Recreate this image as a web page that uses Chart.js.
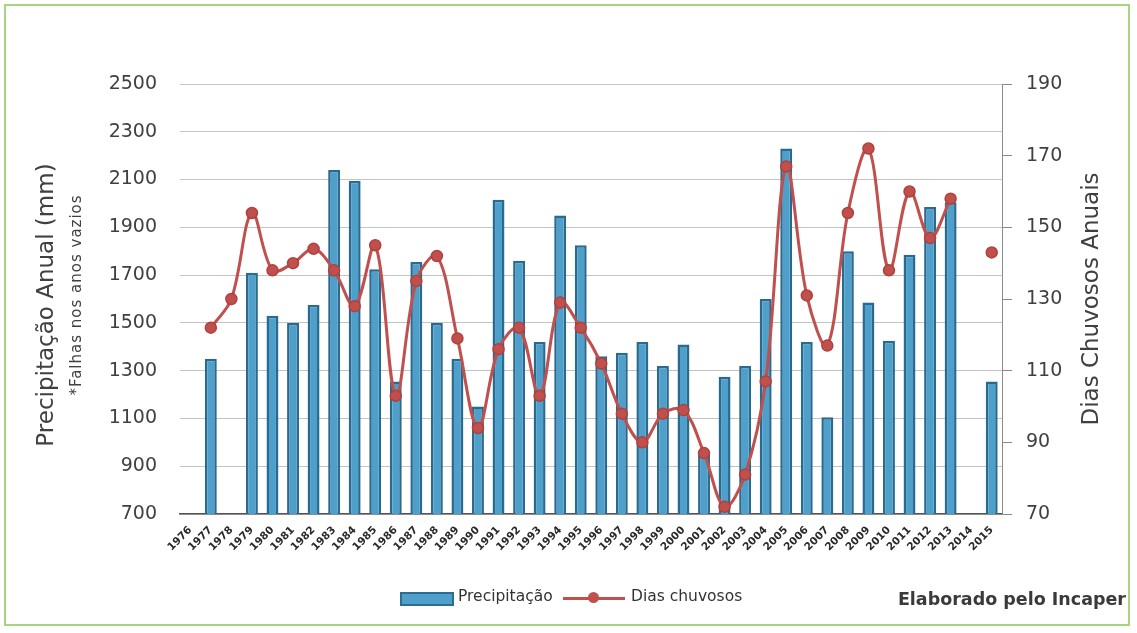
<!DOCTYPE html>
<html>
<head>
<meta charset="utf-8">
<script src="https://cdn.jsdelivr.net/npm/chart.js@4"></script>
<style>
  html, body { margin: 0; padding: 0; background: #ffffff; }
  #wrap { position: relative; width: 1137px; height: 633px; overflow: hidden; background: #fff; }
  #frame { position: absolute; left: 4px; top: 4px; width: 1126px; height: 622px; border: 2px solid #a9d47e; box-sizing: border-box; pointer-events: none; }
  canvas { position: absolute; left: 0; top: 0; }
  .t { position: absolute; white-space: nowrap; font-family: "DejaVu Sans", sans-serif; color: #404040; }
  .rot { transform: translate(-50%, -50%) rotate(-90deg); }
  .leg { position: absolute; font-family: "DejaVu Sans", sans-serif; font-size: 15.5px; color: #333; white-space: nowrap; }
</style>
</head>
<body>
<div id="wrap">
  <canvas id="c" width="1137" height="633"></canvas>
  <div id="frame"></div>
  <div class="t rot" style="left:45px; top:305px; font-size:23px;">Precipitação Anual (mm)</div>
  <div class="t rot" style="left:76px; top:295px; font-size:15px; letter-spacing:1px;">*Falhas nos anos vazios</div>
  <div class="t rot" style="left:1090px; top:299px; font-size:23px;">Dias Chuvosos Anuais</div>
  <div class="t" style="right:11px; top:589px; font-size:17.5px; font-weight:bold; color:#3a3a3a;">Elaborado pelo Incaper</div>
  <div class="leg" style="left:400px; top:592px; width:50px; height:10px; background:#4f9fcb; border:2px solid #2d6d91; box-sizing:content-box;"></div>
  <div class="leg" style="left:458px; top:587px;">Precipitação</div>
  <div class="leg" style="left:563px; top:597px; width:62px; height:3px; background:#c0504d;"></div>
  <div class="leg" style="left:588px; top:592px; width:11px; height:11px; border-radius:50%; background:#c0504d;"></div>
  <div class="leg" style="left:631px; top:587px;">Dias chuvosos</div>
</div>
<script>
const years = ['1976','1977','1978','1979','1980','1981','1982','1983','1984','1985',
  '1986','1987','1988','1989','1990','1991','1992','1993','1994','1995',
  '1996','1997','1998','1999','2000','2001','2002','2003','2004','2005',
  '2006','2007','2008','2009','2010','2011','2012','2013','2014','2015'];

const precipitacao = [null,1350,null,1710,1530,1500,1575,2140,2095,1725,
  1255,1755,1500,1350,1150,2015,1760,1420,1950,1825,
  1360,1375,1420,1320,1410,950,1275,1320,1600,2230,
  1420,1105,1800,1585,1425,1785,1985,2005,null,1255];

const diasChuvosos = [null,122,130,154,138,140,144,138,128,145,
  103,135,142,119,94,116,122,103,129,122,
  112,98,90,98,99,87,72,81,107,167,
  131,117,154,172,138,160,147,158,null,143];

const leftTicks = [700, 900, 1100, 1300, 1500, 1700, 1900, 2100, 2300, 2500];
const rightTicks = [70, 90, 110, 130, 150, 170, 190];

const tickFont = { family: 'DejaVu Sans', size: 19 };

new Chart(document.getElementById('c'), {
  data: {
    labels: years,
    datasets: [
      {
        type: 'line',
        label: 'Dias chuvosos',
        data: diasChuvosos,
        yAxisID: 'y1',
        borderColor: '#c0504d',
        borderWidth: 3,
        backgroundColor: '#c0504d',
        pointBackgroundColor: '#c0504d',
        pointBorderColor: '#b2403d',
        pointBorderWidth: 1.5,
        pointRadius: 5.5,
        tension: 0.35,
        spanGaps: false,
        order: 1
      },
      {
        type: 'bar',
        label: 'Precipitação',
        data: precipitacao,
        yAxisID: 'y',
        backgroundColor: '#4f9fcb',
        borderColor: '#2a6a8f',
        borderWidth: 2.5,
        barPercentage: 0.58,
        categoryPercentage: 1.0,
        order: 2
      }
    ]
  },
  options: {
    responsive: false,
    animation: false,
    layout: { padding: { top: 84, left: 0, right: 0, bottom: 0 } },
    plugins: {
      legend: { display: false },
      tooltip: { enabled: false }
    },
    scales: {
      x: {
        offset: true,
        grid: { display: false },
        border: { display: true, color: '#555555', width: 1.5 },
        ticks: {
          autoSkip: false,
          maxRotation: 45,
          minRotation: 45,
          padding: 2,
          color: '#2a2a2a',
          font: { family: 'DejaVu Sans', size: 10.5, weight: 'bold' }
        },
        afterFit: s => { s.height = 119; }
      },
      y: {
        position: 'left',
        min: 700,
        max: 2500,
        afterBuildTicks: s => { s.ticks = leftTicks.map(v => ({ value: v })); },
        grid: { color: '#c4c4c4', lineWidth: 1, drawTicks: false },
        border: { display: false },
        ticks: { padding: 23, color: '#404040', font: tickFont, callback: v => String(v) },
        afterFit: s => { s.width = 180; }
      },
      y1: {
        position: 'right',
        min: 70,
        max: 190,
        afterBuildTicks: s => { s.ticks = rightTicks.map(v => ({ value: v })); },
        grid: { drawOnChartArea: false, drawTicks: true, tickLength: 10, color: '#8a8a8a' },
        border: { display: true, color: '#8a8a8a', width: 1 },
        ticks: { padding: 14, color: '#404040', font: tickFont, callback: v => String(v) },
        afterFit: s => { s.width = 135; }
      }
    }
  }
});
</script>
</body>
</html>
